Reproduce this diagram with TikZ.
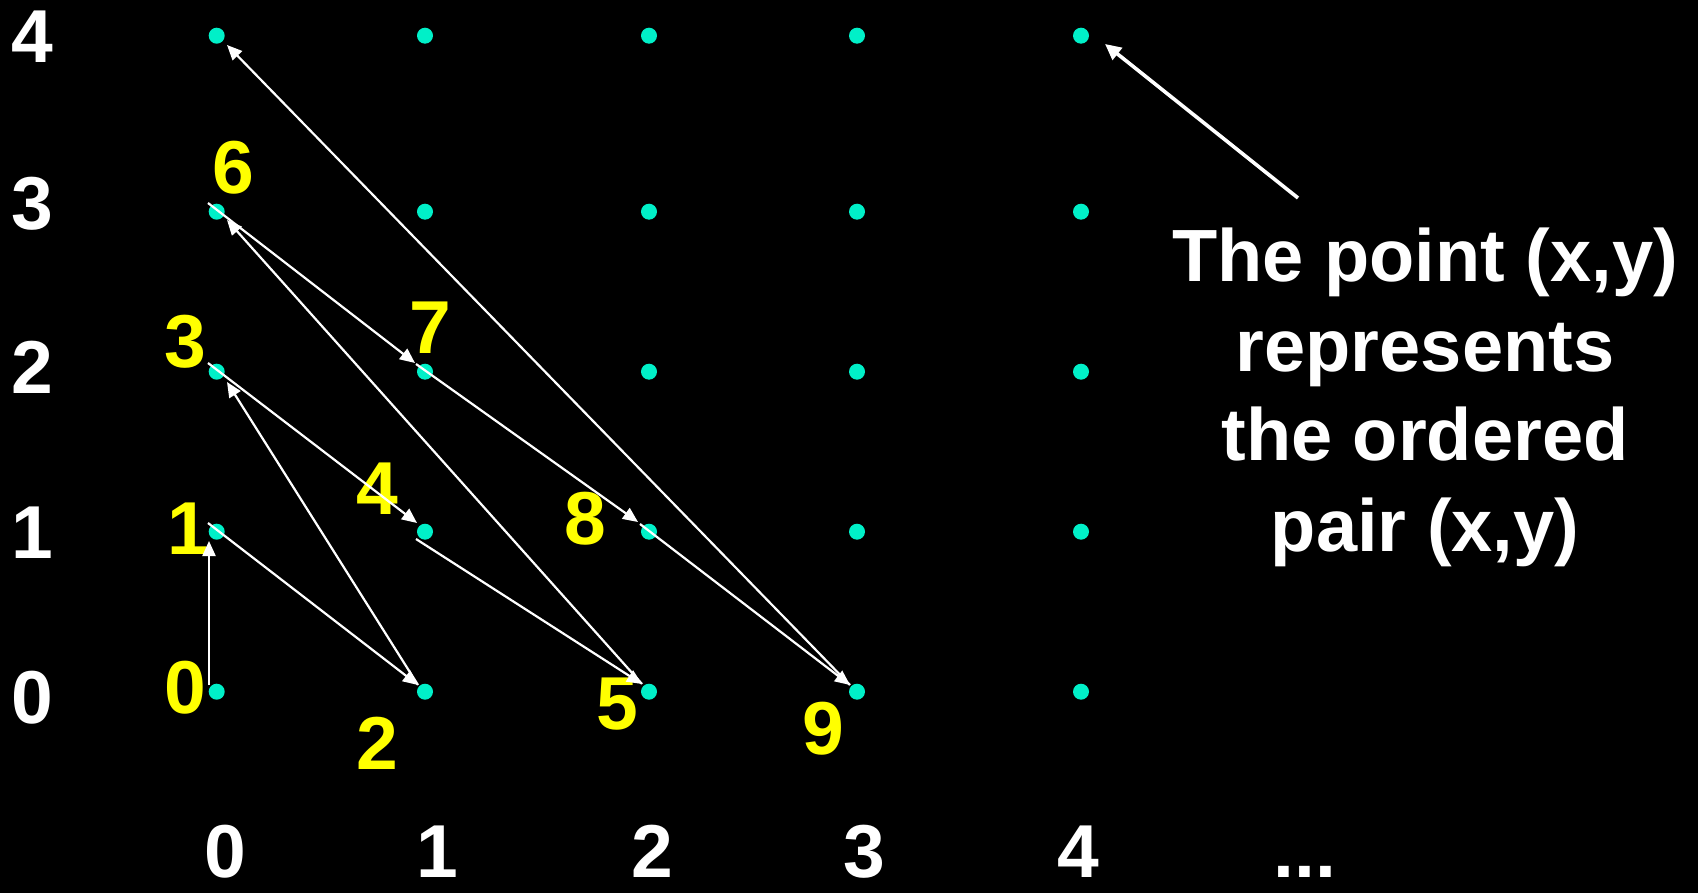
\documentclass[tikz,border=0pt]{standalone}
\usepackage{fontspec}
\setmainfont{Liberation Sans}
\usetikzlibrary{arrows.meta}
\definecolor{dotcol}{RGB}{0,240,200}
\definecolor{numyellow}{RGB}{255,255,0}
\tikzset{
  gdot/.style={circle,fill=dotcol,inner sep=0pt,minimum size=16pt},
  axlabel/.style={text=white,font=\fontsize{75}{90}\selectfont\bfseries,inner sep=0pt,anchor=base},
  ordlabel/.style={text=numyellow,font=\fontsize{75}{90}\selectfont\bfseries,inner sep=0pt,anchor=base},
  caption/.style={text=white,font=\fontsize{74}{90}\selectfont\bfseries,inner sep=0pt,anchor=base},
  walk/.style={draw=white,line width=2.2pt,-{Triangle[length=15pt,width=13pt]}},
  pointer/.style={draw=white,line width=3.6pt,-{Triangle[length=16pt,width=15pt]}}
}
\begin{document}
\begin{tikzpicture}[x=1pt,y=-1pt]
\fill[black] (0,0) rectangle (1698,893);
\useasboundingbox (0,0) rectangle (1698,893);

% grid of points
\foreach \i/\xx in {0/216.7,1/425,2/649,3/857,4/1081}{
  \foreach \j/\yy in {0/691.7,1/531.7,2/371.7,3/211.7,4/35.7}{
    \node[gdot] (d\i\j) at (\xx,\yy) {};
  }
}

% axis labels (rows)
\node[axlabel] (r4) at (32,63) {4};
\node[axlabel] (r3) at (32,230) {3};
\node[axlabel] (r2) at (32,393) {2};
\node[axlabel] (r1) at (32,558) {1};
\node[axlabel] (r0) at (32,723) {0};
% axis labels (columns)
\node[axlabel] (c0) at (225,877) {0};
\node[axlabel] (c1) at (437,877) {1};
\node[axlabel] (c2) at (652,877) {2};
\node[axlabel] (c3) at (864,877) {3};
\node[axlabel] (c4) at (1078,877) {4};
\node[axlabel] (cdots) at (1305,877) {...};

% order labels
\node[ordlabel] (n0) at (185,713) {0};
\node[ordlabel] (n1) at (188,554) {1};
\node[ordlabel] (n2) at (377,769) {2};
\node[ordlabel] (n3) at (185,367) {3};
\node[ordlabel] (n4) at (377,514) {4};
\node[ordlabel] (n5) at (617,729) {5};
\node[ordlabel] (n6) at (233,194) {6};
\node[ordlabel] (n7) at (430,354) {7};
\node[ordlabel] (n8) at (585,544) {8};
\node[ordlabel] (n9) at (823,754) {9};

% connector end points beside the dots
\coordinate (s00) at (209,685);
\coordinate (e01) at (209,541);
\coordinate (s01) at (208,523);
\coordinate (e10) at (418,685);
\coordinate (e02) at (227,382);
\coordinate (s02) at (208,363);
\coordinate (e11) at (417,523);
\coordinate (s11) at (416,539);
\coordinate (e20) at (642,684);
\coordinate (e03) at (227,220);
\coordinate (s03) at (208,203);
\coordinate (e12) at (415,363);
\coordinate (s12) at (416,364);
\coordinate (e21) at (638,522);
\coordinate (s21) at (640,524);
\coordinate (e30) at (850,685);
\coordinate (e04) at (227,45);
\coordinate (e40) at (1105,44);
\coordinate (cap) at (1298,198);

% the walk
\draw[walk] (s00) -- (e01);
\draw[walk] (s01) -- (e10);
\draw[walk] (e10) -- (e02);
\draw[walk] (s02) -- (e11);
\draw[walk] (s11) -- (e20);
\draw[walk] (e20) -- (e03);
\draw[walk] (s03) -- (e12);
\draw[walk] (s12) -- (e21);
\draw[walk] (s21) -- (e30);
\draw[walk] (e30) -- (e04);

% caption
\draw[pointer] (cap) -- (e40);
\node[caption] (t1) at (1425,282) {The point (x,y)};
\node[caption] (t2) at (1425,371) {represents};
\node[caption] (t3) at (1425,460) {the ordered};
\node[caption] (t4) at (1425,551) {pair (x,y)};
\end{tikzpicture}
\end{document}
